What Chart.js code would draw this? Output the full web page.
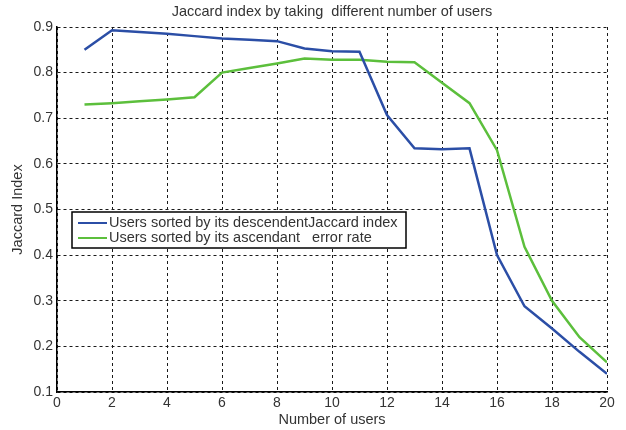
<!DOCTYPE html>
<html>
<head>
<meta charset="utf-8">
<script src="https://cdn.jsdelivr.net/npm/chart.js@4"></script>
<style>
html,body{margin:0;padding:0;background:#fff;}
#wrap{width:626px;height:430px;}
</style>
</head>
<body>
<div id="wrap"><canvas id="c" width="626" height="430"></canvas></div>
<script>
const users = [1,2,3,4,5,6,7,8,9,10,11,12,13,14,15,16,17,18,19,20];
const descJaccard = [0.850,0.893,0.889,0.885,0.880,0.875,0.872,0.869,0.853,0.847,0.846,0.707,0.634,0.632,0.634,0.400,0.288,0.239,0.188,0.140];
const ascError = [0.730,0.733,0.737,0.741,0.746,0.800,0.810,0.820,0.831,0.828,0.828,0.824,0.823,0.778,0.733,0.630,0.418,0.300,0.220,0.165];
const seriesLabels = ["Users sorted by its descendentJaccard index", "Users sorted by its ascendant   error rate"];
const xTicks = [0,2,4,6,8,10,12,14,16,18,20];
const yTicks = [0.1,0.2,0.3,0.4,0.5,0.6,0.7,0.8,0.9];

const FONT = "Arial, 'Liberation Sans', sans-serif";
const TXT = '#333333';

const insideLegend = {
  id: 'insideLegend',
  afterDatasetsDraw(chart) {
    const ctx = chart.ctx;
    const bx = 72, by = 212, bw = 334, bh = 36;
    ctx.save();
    ctx.fillStyle = '#ffffff';
    ctx.fillRect(bx, by, bw, bh);
    ctx.strokeStyle = '#000000';
    ctx.lineWidth = 1.5;
    ctx.setLineDash([]);
    ctx.strokeRect(bx, by, bw, bh);
    ctx.font = "14.5px " + FONT;
    ctx.textBaseline = 'middle';
    ctx.textAlign = 'left';
    chart.data.datasets.forEach((ds, i) => {
      const yy = by + 11 + i * 15;
      ctx.strokeStyle = ds.borderColor;
      ctx.lineWidth = 2;
      ctx.beginPath();
      ctx.moveTo(78, yy);
      ctx.lineTo(107, yy);
      ctx.stroke();
      ctx.fillStyle = TXT;
      ctx.fillText(ds.label, 109, yy);
    });
    ctx.restore();
  }
};

new Chart(document.getElementById('c'), {
  type: 'line',
  data: {
    datasets: [
      { label: seriesLabels[0], data: users.map((u, i) => ({x: u, y: descJaccard[i]})),
        borderColor: '#2b4ea6', borderWidth: 2.5, pointRadius: 0, tension: 0, fill: false },
      { label: seriesLabels[1], data: users.map((u, i) => ({x: u, y: ascError[i]})),
        borderColor: '#5cbf3c', borderWidth: 2.5, pointRadius: 0, tension: 0, fill: false }
    ]
  },
  options: {
    responsive: false,
    animation: false,
    layout: { padding: { left: 0, right: 19, top: 0, bottom: 0 } },
    plugins: {
      legend: { display: false },
      tooltip: { enabled: false },
      title: {
        display: true,
        fullSize: false,
        text: 'Jaccard index by taking  different number of users',
        color: TXT,
        font: { family: FONT, size: 14.5, weight: 'normal', lineHeight: 1.2 },
        padding: { top: 3.5, bottom: 6.1 }
      }
    },
    scales: {
      x: {
        type: 'linear', min: 0, max: 20,
        afterBuildTicks: s => { s.ticks = xTicks.map(v => ({value: v})); },
        afterFit: s => { s.height = 38; },
        ticks: { color: TXT, font: { family: FONT, size: 14 }, padding: 3, maxRotation: 0,
                 callback: v => String(v) },
        grid: { color: '#1a1a1a', lineWidth: 1, drawTicks: false },
        border: { display: true, color: '#000', width: 1.5, dash: [3, 3] },
        title: { display: true, text: 'Number of users', color: TXT,
                 font: { family: FONT, size: 14.5, lineHeight: 1.2 }, padding: { top: 0, bottom: 1.3 } }
      },
      y: {
        type: 'linear', min: 0.1, max: 0.9,
        afterBuildTicks: s => { s.ticks = yTicks.map(v => ({value: v})); },
        afterFit: s => { s.width = 57; },
        ticks: { color: TXT, font: { family: FONT, size: 14 }, padding: 4,
                 callback: v => Number(v).toFixed(1) },
        grid: { color: '#1a1a1a', lineWidth: 1, drawTicks: false },
        border: { display: true, color: '#000', width: 1.5, dash: [3, 3] },
        title: { display: true, text: 'Jaccard Index', color: TXT,
                 font: { family: FONT, size: 14.5, lineHeight: 1.2 }, padding: { top: 9.3, bottom: 0 } }
      }
    }
  },
  plugins: [insideLegend]
});
</script>
</body>
</html>
